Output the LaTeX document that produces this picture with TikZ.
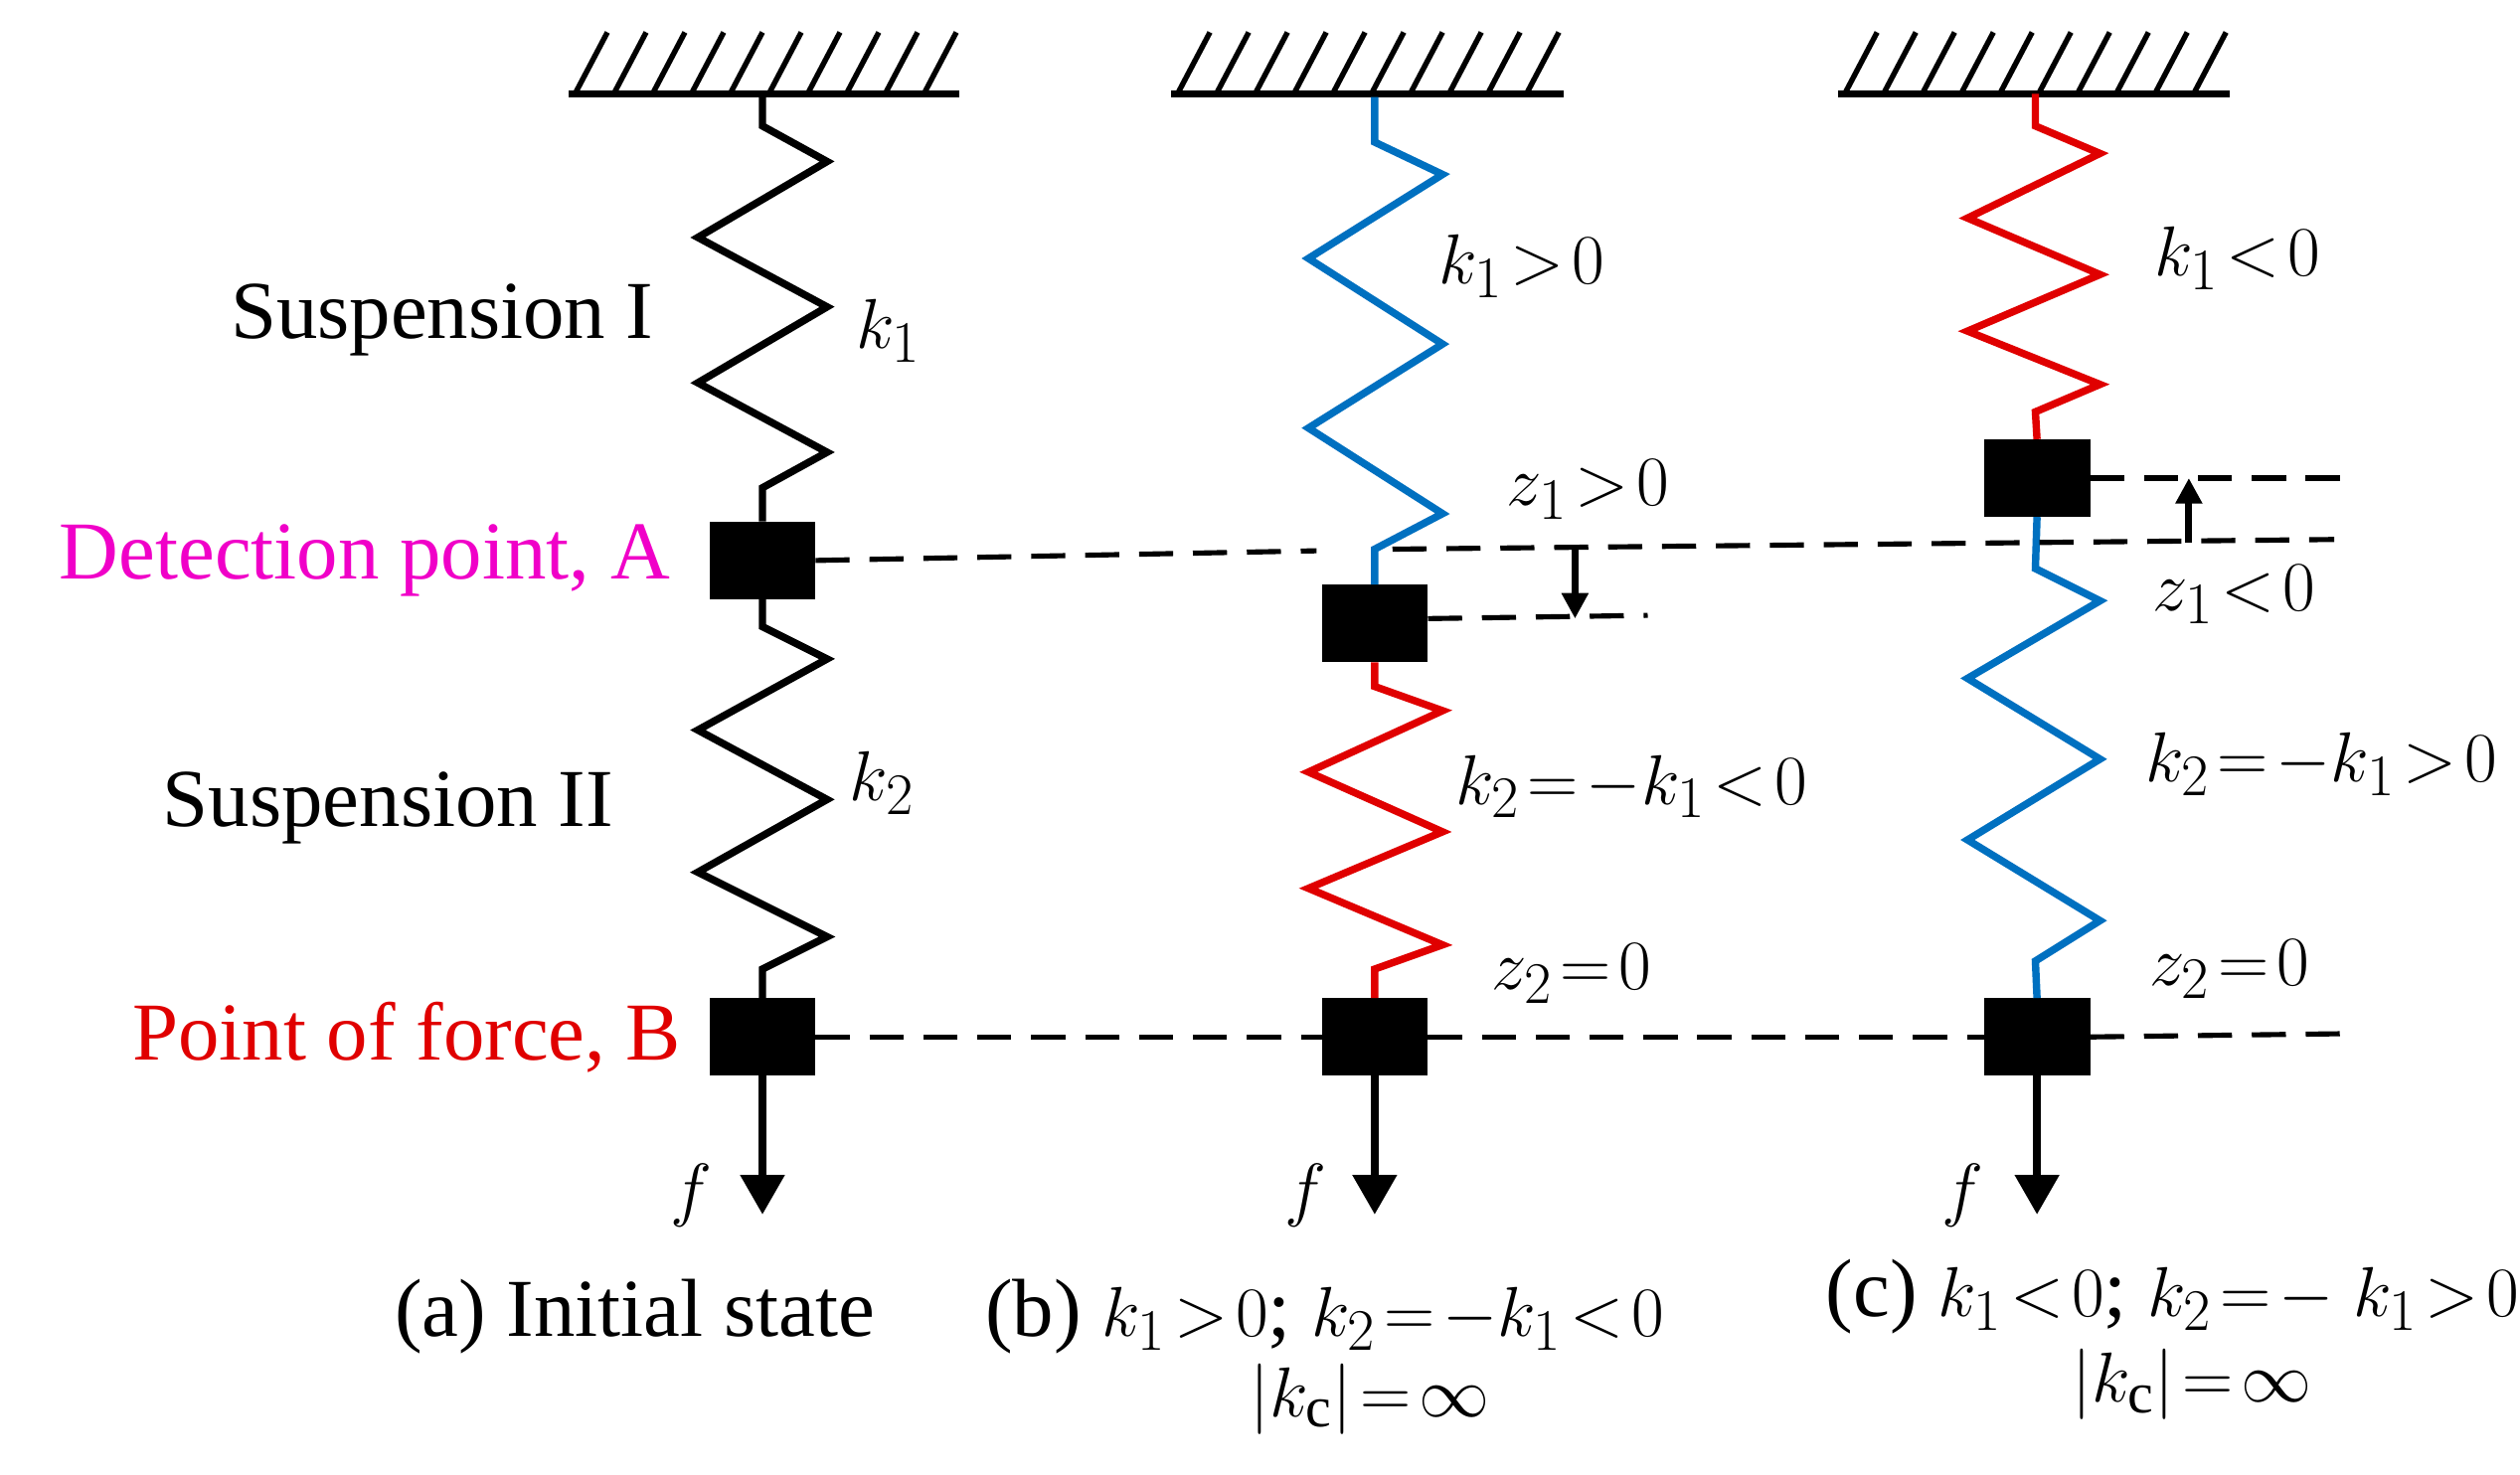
\documentclass[tikz,border=0pt]{standalone}
\usepackage{fontspec}
\setmainfont{Liberation Serif}
\usetikzlibrary{arrows.meta}
\definecolor{sblue}{RGB}{0,112,192}
\definecolor{sred}{RGB}{224,0,0}
\definecolor{smag}{RGB}{240,0,200}
\begin{document}
\begin{tikzpicture}[x=0.02cm,y=-0.02cm,
  mass/.style={fill=black,draw=black,minimum width=1.3cm,minimum height=0.95cm,inner sep=0},
  spr/.style={line width=2.6pt,line join=miter},
  dl/.style={line width=1.8pt,dash pattern=on 12pt off 7pt},
  force/.style={line width=3pt,-{Triangle[length=14pt,width=15pt]}},
  lab/.style={font=\fontsize{29}{34}\selectfont,inner sep=0},
  ceil/.style={line width=2.4pt}]
\useasboundingbox (0,0) rectangle (1560,913);
% ceilings
\foreach \a/\b in {352/594,725/968,1138/1380}{
  \draw[ceil] (\a,58) -- (\b,58);
  \foreach \i in {0,...,9}{\draw[line width=1.9pt] (\a+4+\i*24,58) -- (\a+24+\i*24,20);}
}
% column a
\node[mass] (A) at (472,347) {};
\node[mass] (B) at (472,642) {};
\draw[spr] (472,58) -- (472,78) -- (512,100) -- (432,147) -- (512,190) -- (432,237) -- (512,280) -- (472,302) -- (A.north);
\draw[spr] (A.south) -- (472,388) -- (512,408) -- (432,452) -- (512,495) -- (432,540) -- (512,580) -- (472,600) -- (B.north);
\coordinate (fa) at (472,752);
\draw[force] (B.south) -- (fa);
\node[lab] at (428,740) {$f$};
\node[lab,anchor=east] at (405,198) {Suspension I};
\node[lab] at (550,205) {$k_1$};
\node[lab,anchor=east,text=smag] at (415,347) {Detection point, A};
\node[lab] at (546,485) {$k_2$};
\node[lab,anchor=east] at (380,500) {Suspension II};
\node[lab,anchor=east,text=sred] at (422,642) {Point of force, B};
% column b
\node[mass] (A2) at (851,386) {};
\node[mass] (B2) at (851,642) {};
\draw[spr,sblue] (851,60) -- (851,88) -- (893,108) -- (810,160) -- (893,213) -- (810,265) -- (893,318) -- (851,340) -- (A2.north);
\draw[spr,sred] (A2.south) -- (851,425) -- (893,440) -- (810,478) -- (893,515) -- (810,550) -- (893,585) -- (851,600) -- (B2.north);
\coordinate (fb) at (851,752);
\draw[force] (B2.south) -- (fb);
\node[lab] at (808,740) {$f$};
\node[lab] at (942,165) {$k_1\!>\!0$};
\node[lab] at (983,303) {$z_1\!>\!0$};
\node[lab] at (1010,487) {$k_2\!=\!-k_1\!<\!0$};
\node[lab] at (973,603) {$z_2\!=\!0$};
% column c
\node[mass] (A3) at (1261,296) {};
\node[mass] (B3) at (1261,642) {};
\draw[spr,sred] (1260,58) -- (1260,78) -- (1300,95) -- (1218,135) -- (1300,170) -- (1218,205) -- (1300,238) -- (1260,255) -- (A3.north);
\draw[spr,sblue] (A3.south) -- (1260,352) -- (1300,372) -- (1218,420) -- (1300,470) -- (1218,520) -- (1300,570) -- (1260,595) -- (B3.north);
\coordinate (fc) at (1261,752);
\draw[force] (B3.south) -- (fc);
\node[lab] at (1215,740) {$f$};
\node[lab] at (1385,160) {$k_1\!<\!0$};
\node[lab] at (1383,368) {$z_1\!<\!0$};
\node[lab] at (1437,473) {$k_2\!=\!-k_1\!>\!0$};
\node[lab] at (1380,600) {$z_2\!=\!0$};
% dashed lines
\coordinate (d1) at (815,341);
\coordinate (d2) at (862,340);
\coordinate (d3) at (1445,334);
\draw[dl] (A.east) -- (d1);
\draw[dl] (d2) -- (d3);
\coordinate (e0) at (884,383);
\coordinate (e1) at (1020,381);
\draw[dl] (e0) -- (e1);
\coordinate (g1) at (1450,296);
\draw[dl] (A3.east) -- (g1);
\coordinate (h1) at (1450,640);
\draw[dl] (B.east) -- (B2.west);
\draw[dl] (B2.east) -- (B3.west);
\draw[dl] (B3.east) -- (h1);
% displacement arrows
\coordinate (p1) at (975,340); \coordinate (p2) at (975,383);
\draw[line width=2.4pt,-{Triangle[length=9pt,width=9pt]}] (p1) -- (p2);
\coordinate (q1) at (1355,336); \coordinate (q2) at (1355,296);
\draw[line width=2.4pt,-{Triangle[length=9pt,width=9pt]}] (q1) -- (q2);
% captions
\node[lab] at (393,815) {(a) Initial state};
\node[lab] at (820,815) {(b) $k_1\!>\!0$; $k_2\!=\!-k_1\!<\!0$};
\node[lab] at (848,866) {$|k_{\rm c}|\!=\!\infty$};
\node[lab] at (1345,803) {(c) $k_1\!<\!0$; $k_2\!=\!-\;k_1\!>\!0$};
\node[lab] at (1357,857) {$|k_{\rm c}|\!=\!\infty$};
\end{tikzpicture}
\end{document}
